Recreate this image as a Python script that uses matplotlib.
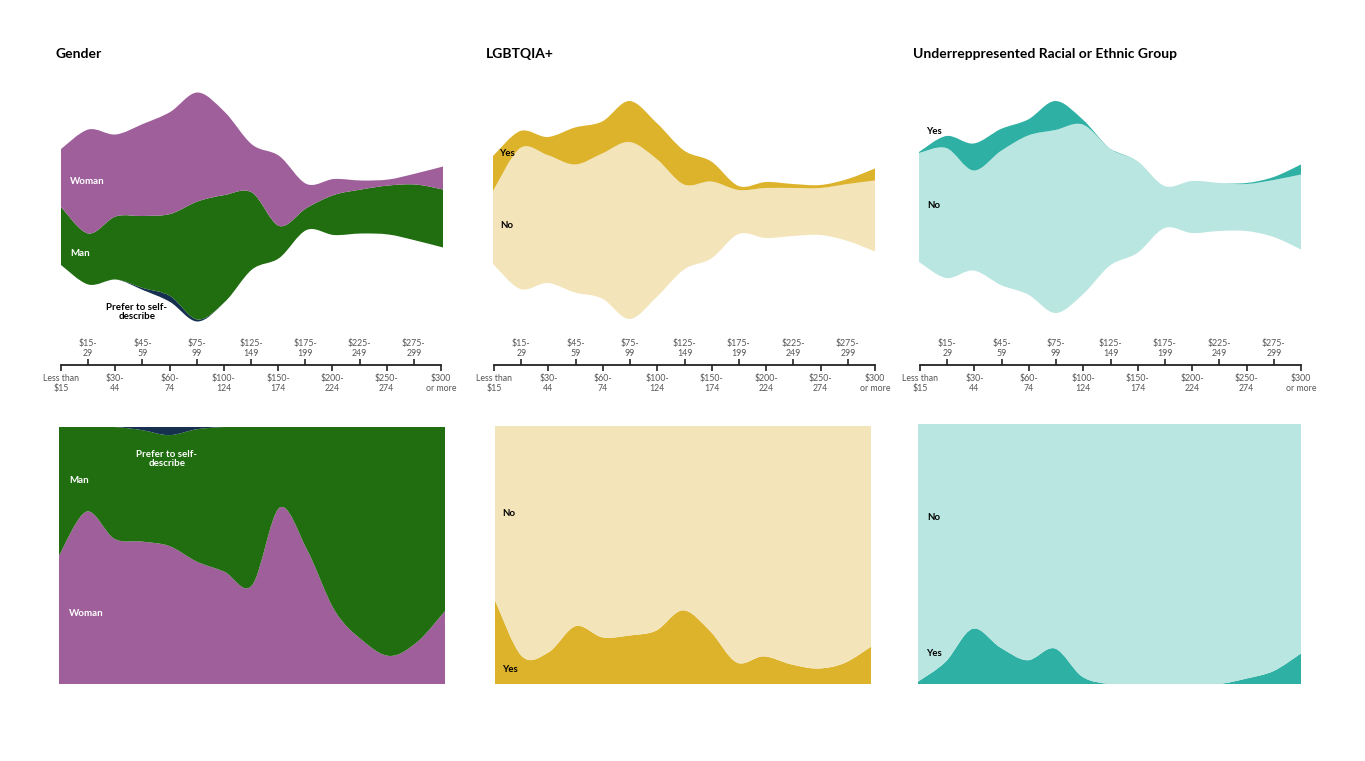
import numpy as np
import matplotlib
matplotlib.use("Agg")
import matplotlib.pyplot as plt
from matplotlib.path import Path
from matplotlib.patches import PathPatch

plt.rcParams["font.family"] = ["Lato", "DejaVu Sans"]

# income brackets
brackets = ["Less than\n$15", "$15-\n29", "$30-\n44", "$45-\n59", "$60-\n74",
            "$75-\n99", "$100-\n124", "$125-\n149", "$150-\n174", "$175-\n199",
            "$200-\n224", "$225-\n249", "$250-\n274", "$275-\n299", "$300\nor more"]

# respondents per bracket
woman = [58, 104, 82, 92, 102, 109, 83, 48, 70, 24, 16, 9, 6, 11, 23]
man = [58, 51, 63, 72, 82, 118, 107, 77, 32, 22, 40, 44, 49, 56, 58]
prefer_self = [0, 0, 0, 2, 6, 2, 0, 0, 0, 0, 0, 0, 0, 0, 0]

lgbt_yes = [35, 17, 18, 37, 32, 41, 36, 34, 20, 4, 6, 4, 3, 5, 12]
lgbt_no = [73, 141, 128, 128, 145, 177, 138, 85, 77, 44, 50, 48, 47, 57, 71]

urg_yes = [1, 12, 27, 22, 16, 29, 5, 0, 0, 0, 0, 0, 1, 3, 10]
urg_no = [109, 130, 100, 134, 159, 183, 170, 117, 92, 42, 52, 48, 47, 57, 75]

PURPLE, GREEN, NAVY = "#9e5f9a", "#216e11", "#163050"
GOLD, LIGHT_GOLD = "#ddb32b", "#f3e4b9"
TEAL, LIGHT_TEAL = "#2eb1a4", "#b9e6e0"

W, H = 1365, 761
fig = plt.figure(figsize=(W / 100, H / 100), dpi=100)


def px_axes(x0, y0, x1, y1):
    # rect given in image pixels (top-left origin)
    return fig.add_axes([x0 / W, 1 - y1 / H, (x1 - x0) / W, (y1 - y0) / H])


def curve(x, y):
    # catmull-rom through the points, as cubic bezier segments
    pts = np.column_stack([x, y]).astype(float)
    n = len(pts)
    verts = [pts[0]]
    for i in range(n - 1):
        p0 = pts[max(i - 1, 0)]
        p1, p2 = pts[i], pts[i + 1]
        p3 = pts[min(i + 2, n - 1)]
        verts += [p1 + (p2 - p0) / 6, p2 - (p3 - p1) / 6, p2]
    return verts


def band(ax, lower, upper, color):
    x = np.arange(len(lower))
    top = curve(x, upper)
    bot = curve(x[::-1], np.asarray(lower)[::-1])
    verts = top + bot + [top[0]]
    codes = ([Path.MOVETO] + [Path.CURVE4] * (len(top) - 1)
             + [Path.LINETO] + [Path.CURVE4] * (len(bot) - 1) + [Path.CLOSEPOLY])
    ax.add_patch(PathPatch(Path(verts, codes), facecolor=color, edgecolor="none", lw=0))


def stream(rect, center, layers, colors):
    # layers listed bottom to top, symmetric (silhouette) baseline
    x0, y0, x1, y1 = rect
    ax = px_axes(x0, y0, x1, y1)
    ax.set_xlim(0, 14)
    ax.set_ylim(-(y1 - center), center - y0)
    ax.axis("off")
    vals = np.array(layers, dtype=float)
    base = -vals.sum(axis=0) / 2
    for v, c in zip(vals, colors):
        band(ax, base, base + v, c)
        base = base + v
    return ax


def expand(rect, layers, colors):
    x0, y0, x1, y1 = rect
    ax = px_axes(x0, y0, x1, y1)
    ax.set_xlim(0, 14)
    ax.set_ylim(0, 1)
    ax.axis("off")
    vals = np.array(layers, dtype=float)
    vals = vals / vals.sum(axis=0)
    base = np.zeros(vals.shape[1])
    for v, c in zip(vals, colors):
        band(ax, base, base + v, c)
        base = base + v
    return ax


def income_axis(x0, x1, y):
    ax = px_axes(x0, y, x1, y + 0.01)
    ax.set_xlim(0, 14)
    ax.set_yticks([])
    for s in ["top", "left", "right"]:
        ax.spines[s].set_visible(False)
    ax.spines["bottom"].set_linewidth(1.3)
    ax.spines["bottom"].set_color("#222222")
    ax.patch.set_alpha(0)
    ax.set_xticks(range(0, 15, 2))
    ax.set_xticklabels(brackets[::2])
    ax.tick_params(axis="x", direction="out", length=4, width=1.2, color="#222222",
                   labelsize=6.3, labelcolor="#555555", pad=2.5)
    top = ax.secondary_xaxis("top")
    top.set_xticks(range(1, 15, 2))
    top.set_xticklabels(brackets[1::2])
    top.spines["top"].set_visible(False)
    top.tick_params(axis="x", direction="out", length=4, width=1.2, color="#222222",
                    labelsize=6.3, labelcolor="#555555", pad=1.0)
    for t in ax.get_xticklabels() + top.get_xticklabels():
        t.set_linespacing(1.1)


def label(x, y, s, color, **kw):
    fig.text(x / W, 1 - y / H, s, color=color, fontsize=7, fontweight="bold",
             va="center", **kw)


fig.text(55 / W, 1 - 54 / H, "Gender", fontsize=10, fontweight="bold", va="center")
fig.text(486 / W, 1 - 54 / H, "LGBTQIA+", fontsize=10, fontweight="bold", va="center")
fig.text(913 / W, 1 - 54 / H, "Underreppresented Racial or Ethnic Group",
         fontsize=10, fontweight="bold", va="center")

# Gender
stream((61, 60, 443, 350), 207, [prefer_self, man, woman], [NAVY, GREEN, PURPLE])
expand((59, 427, 445, 684), [woman, man, prefer_self], [PURPLE, GREEN, NAVY])
income_axis(61, 441, 365)
label(70, 181, "Woman", "white")
label(70, 254, "Man", "white")
label(137, 312, "Prefer to self-\ndescribe", "black", ha="center", linespacing=1.0)
label(167, 459, "Prefer to self-\ndescribe", "white", ha="center", linespacing=1.0)
label(69, 481, "Man", "white")
label(69, 614, "Woman", "white")

# LGBTQIA+
stream((493, 60, 875, 350), 210, [lgbt_no, lgbt_yes], [LIGHT_GOLD, GOLD])
expand((495, 426, 871, 684), [lgbt_yes, lgbt_no], [GOLD, LIGHT_GOLD])
income_axis(494, 875, 365)
label(499, 153, "Yes", "black")
label(500, 225, "No", "black")
label(502, 514, "No", "black")
label(502, 670, "Yes", "black")

# Underrepresented group
stream((919, 60, 1301, 350), 207, [urg_no, urg_yes], [LIGHT_TEAL, TEAL])
expand((918, 424, 1301, 684), [urg_yes, urg_no], [TEAL, LIGHT_TEAL])
income_axis(920, 1301, 365)
label(926, 132, "Yes", "black")
label(927, 205, "No", "black")
label(927, 517, "No", "black")
label(926, 654, "Yes", "black")

fig.savefig("out.png", dpi=100)
